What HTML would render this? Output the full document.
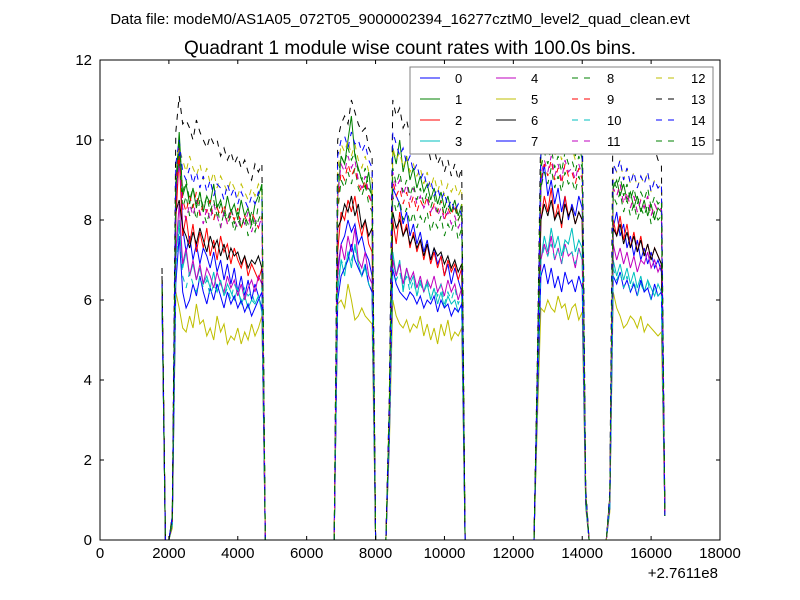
<!DOCTYPE html>
<html><head><meta charset="utf-8"><style>
body{margin:0;background:#fff;}
svg{display:block;font-family:"Liberation Sans",sans-serif;}
</style></head><body>
<svg id="chart" width="800" height="600">
<rect width="800" height="600" fill="#fff"/>
<text x="400" y="24" text-anchor="middle" font-size="15">Data file: modeM0/AS1A05_072T05_9000002394_16277cztM0_level2_quad_clean.evt</text>
<text x="410" y="54" text-anchor="middle" font-size="19">Quadrant 1 module wise count rates with 100.0s bins.</text>
<g id="plot"></g>
<g id="axes"></g>
<g id="legend"></g>
</svg>
<script>
const times=[1800,1900,2000,2100,2200,2300,2400,2500,2600,2700,2800,2900,3000,3100,3200,3300,3400,3500,3600,3700,3800,3900,4000,4100,4200,4300,4400,4500,4600,4700,4800,
6800,6900,7000,7100,7200,7300,7400,7500,7600,7700,7800,7900,8000,
8300,8400,8500,8600,8700,8800,8900,9000,9100,9200,9300,9400,9500,9600,9700,9800,9900,10000,10100,10200,10300,10400,10500,10600,
12600,12700,12800,12900,13000,13100,13200,13300,13400,13500,13600,13700,13800,13900,14000,14100,14200,
14700,14800,14900,15000,15100,15200,15300,15400,15500,15600,15700,15800,15900,16000,16100,16200,16300,16400];
const s0=[6.2,0,0,0.5,8.4,9.8,7.8,7.2,7.6,7.0,7.4,6.9,7.3,7.1,6.8,7.2,6.7,7.0,6.5,6.9,6.4,6.8,6.2,6.6,6.1,6.5,6.0,6.4,6.1,5.8,0,
0,6.8,7.4,7.6,8.0,7.7,7.9,7.4,7.6,7.2,7.0,6.6,0,
0,3.0,8.8,8.6,8.4,7.9,8.2,7.6,7.9,7.4,7.7,7.2,7.5,7.0,7.3,6.9,7.1,6.6,6.9,6.4,6.8,6.5,6.2,0,
0,4.0,8.8,9.4,8.6,9.0,8.4,8.8,8.2,8.6,8.0,8.4,8.1,8.6,8.3,1.0,0,
0,1.0,7.8,8.2,7.6,7.9,7.3,7.6,7.1,7.5,7.0,7.3,6.9,7.2,6.8,7.0,6.7,0.6];
const s1=[6.4,0,0,0.6,8.9,10.2,8.6,8.9,8.4,8.8,8.3,8.7,8.2,8.6,8.4,8.9,8.3,8.5,8.1,8.6,8.2,8.4,8.0,8.5,8.1,8.3,7.9,8.4,8.6,8.9,0,
0,8.6,9.6,9.4,10.0,10.6,9.6,9.3,9.0,8.8,9.2,8.5,0,
0,3.2,9.8,9.4,10.0,9.2,9.6,9.0,9.3,8.8,9.1,8.7,8.9,8.5,8.8,8.4,8.7,8.3,8.6,8.2,8.5,8.1,8.4,0,
0,4.2,9.6,10.2,9.8,10.4,9.9,10.1,9.7,10.3,9.8,10.0,9.6,9.9,9.5,1.2,0,
0,1.1,8.8,9.0,8.6,8.9,8.5,8.7,8.3,8.6,8.2,8.5,8.1,8.4,8.0,8.3,8.2,0.6];
const s2=[6.3,0,0,0.5,8.0,9.6,7.6,8.1,7.4,7.9,7.2,7.7,7.3,7.8,7.1,7.5,7.0,7.6,7.2,7.4,6.9,7.3,7.0,6.8,7.1,6.6,6.9,6.7,6.5,6.8,0,
0,7.2,8.2,8.0,8.5,8.2,8.6,8.0,7.6,8.0,7.4,7.2,0,
0,2.8,8.0,7.4,8.2,7.6,7.9,7.3,7.7,7.2,7.5,7.0,7.4,6.9,7.2,6.8,7.1,6.6,7.0,6.7,6.9,6.5,6.8,0,
0,3.8,8.0,8.6,8.2,8.8,8.0,8.4,7.8,8.6,8.1,8.3,7.9,8.2,8.0,1.0,0,
0,0.9,8.0,7.6,8.1,7.5,7.9,7.3,7.7,7.2,7.6,7.1,7.4,7.0,7.3,7.1,6.9,0.6];
const s3=[6.0,0,0,0.4,7.0,8.0,6.8,7.2,6.6,6.9,6.5,6.8,6.4,6.6,6.3,6.7,6.2,6.5,6.1,6.4,6.2,6.0,6.3,5.9,6.1,5.8,6.0,5.9,6.1,5.7,0,
0,6.2,7.0,6.6,7.2,6.8,7.4,6.9,6.6,6.8,6.4,6.2,0,
0,2.6,7.2,6.6,7.0,6.2,6.8,6.4,6.6,6.1,6.5,6.2,6.4,6.0,6.3,5.9,6.2,5.8,6.1,5.9,6.0,5.7,5.9,0,
0,3.6,7.0,7.6,7.2,7.8,7.3,7.6,7.1,7.5,7.4,7.8,7.2,7.5,7.3,0.9,0,
0,0.8,7.0,6.6,6.9,6.5,6.8,6.4,6.7,6.3,6.6,6.2,6.5,6.3,6.1,6.4,6.2,0.6];
const s4=[6.1,0,0,0.4,7.2,8.4,6.9,7.3,6.6,7.0,6.5,6.9,6.4,6.8,6.6,6.3,6.7,6.4,6.2,6.6,6.3,6.5,6.1,6.4,6.0,6.3,6.5,6.2,6.6,6.4,0,
0,6.6,7.4,7.0,7.6,7.2,7.8,7.0,6.8,7.2,6.6,6.4,0,
0,2.7,7.0,6.6,6.9,6.4,6.8,6.5,6.7,6.3,6.6,6.2,6.5,6.3,6.6,6.2,6.4,6.1,6.5,6.2,6.4,6.0,6.3,0,
0,3.7,7.0,7.4,7.1,7.6,7.0,7.3,6.9,7.4,7.1,7.2,6.8,7.3,7.0,0.9,0,
0,0.8,7.4,7.0,7.3,6.9,7.2,6.8,7.1,6.7,7.0,6.9,7.2,6.8,7.0,6.7,6.9,0.6];
const s5=[6.5,0,0,0.3,6.2,5.8,5.3,5.2,5.6,5.3,5.9,5.4,5.5,5.1,5.3,5.0,5.6,5.2,5.4,4.9,5.1,5.0,5.3,4.9,5.2,5.0,5.4,5.1,5.3,5.6,0,
0,5.9,6.0,5.8,6.4,6.0,5.5,5.6,5.8,5.6,5.5,5.4,0,
0,2.3,6.0,5.6,5.4,5.3,5.5,5.2,5.4,5.3,5.6,5.1,5.4,5.0,5.3,4.9,5.4,5.1,5.5,5.0,5.2,5.1,5.3,0,
0,3.0,5.8,5.7,6.0,5.8,5.7,6.1,5.8,5.9,5.5,5.8,5.9,5.5,5.7,0.8,0,
0,0.7,6.2,5.8,5.6,5.3,5.4,5.6,5.5,5.3,5.6,5.2,5.4,5.3,5.2,5.1,5.2,0.6];
const s6=[6.6,0,0,0.5,8.2,8.5,7.8,7.6,7.3,7.7,7.4,7.8,7.5,7.2,7.6,7.3,7.5,7.1,7.4,7.0,7.3,7.1,7.2,6.9,7.1,6.8,7.0,6.9,7.1,6.8,0,
0,7.8,8.0,8.4,8.2,8.6,8.1,8.4,7.8,8.0,7.6,7.8,0,
0,2.9,8.2,7.8,8.0,7.6,7.8,7.4,7.6,7.3,7.5,7.1,7.4,7.0,7.3,7.1,7.2,6.9,7.1,6.8,7.0,6.7,6.9,0,
0,3.9,8.0,8.4,8.1,8.5,8.0,8.2,7.9,8.4,8.1,8.3,7.9,8.2,8.0,1.0,0,
0,0.9,7.8,7.6,7.9,7.4,7.7,7.3,7.6,7.2,7.5,7.1,7.4,7.0,7.3,7.1,6.9,0.6];
const s7=[6.0,0,0,0.4,6.4,7.6,6.2,5.8,6.0,6.4,6.1,6.6,6.2,5.9,6.3,6.0,6.4,6.1,5.8,6.2,5.9,6.1,5.8,6.0,5.7,5.9,5.6,5.8,6.0,6.2,0,
0,6.0,6.6,6.8,7.0,7.4,7.0,6.8,6.6,6.9,6.4,6.2,0,
0,2.5,6.8,6.4,6.2,6.1,6.0,6.2,6.1,5.9,6.1,5.8,6.0,5.9,6.1,5.7,6.0,5.8,5.9,5.6,5.8,5.7,5.9,0,
0,3.4,6.6,6.9,6.4,6.8,6.3,6.6,6.2,6.7,6.4,6.5,6.2,6.6,6.3,0.9,0,
0,0.8,6.6,6.4,6.7,6.3,6.5,6.2,6.4,6.1,6.5,6.2,6.3,6.0,6.4,6.1,6.2,0.6];
const s8=[6.3,0,0,0.5,8.6,9.6,8.3,8.6,8.1,8.4,8.0,8.5,8.2,7.9,8.3,8.0,8.4,7.8,8.2,7.9,8.1,7.7,8.0,7.8,8.1,7.6,7.9,7.7,8.0,8.2,0,
0,8.2,9.0,8.8,9.2,8.9,9.3,8.8,8.6,8.9,8.4,8.2,0,
0,3.1,8.6,8.2,8.5,8.0,8.3,7.9,8.2,7.8,8.1,7.9,8.2,7.7,8.0,7.8,8.1,7.6,7.9,7.7,8.0,7.5,7.8,0,
0,4.1,8.8,9.2,8.9,9.3,8.8,9.1,8.7,9.2,8.9,9.0,8.7,9.1,8.8,1.1,0,
0,1.0,8.6,8.4,8.7,8.2,8.5,8.1,8.4,8.0,8.3,8.1,8.4,7.9,8.2,8.0,8.1,0.6];
const s9=[6.4,0,0,0.5,8.8,9.8,8.5,8.2,8.6,8.3,8.7,8.1,8.4,8.2,8.5,8.0,8.3,8.1,8.4,7.9,8.2,8.0,8.3,7.8,8.1,7.9,8.2,8.0,7.8,8.1,0,
0,8.4,9.2,9.0,9.4,9.1,9.3,8.9,8.7,9.0,8.6,8.4,0,
0,3.2,9.0,8.6,8.8,8.4,8.7,8.3,8.6,8.2,8.5,8.3,8.6,8.1,8.4,8.2,8.5,8.0,8.3,8.1,8.4,8.0,8.2,0,
0,4.1,9.0,9.4,9.1,9.5,9.0,9.3,8.9,9.4,9.1,9.2,8.9,9.3,9.0,1.1,0,
0,1.0,8.8,8.6,8.9,8.4,8.7,8.3,8.6,8.2,8.5,8.3,8.6,8.1,8.4,8.2,8.3,0.6];
const s10=[6.2,0,0,0.4,6.8,7.8,6.6,6.3,6.7,6.4,6.2,6.6,6.3,6.5,6.1,6.4,6.2,6.5,6.1,6.3,6.0,6.4,6.2,6.0,6.3,6.1,6.2,5.9,6.1,6.3,0,
0,6.4,7.0,6.8,7.2,7.0,7.3,6.9,6.6,6.9,6.4,6.2,0,
0,2.6,6.8,6.5,6.7,6.3,6.6,6.2,6.5,6.1,6.4,6.2,6.5,6.0,6.3,6.1,6.4,5.9,6.2,6.0,6.3,5.9,6.1,0,
0,3.6,7.0,7.3,7.1,7.4,7.0,7.3,6.9,7.4,7.1,7.2,6.9,7.3,7.0,0.9,0,
0,0.8,6.8,6.5,6.7,6.3,6.6,6.2,6.5,6.1,6.4,6.2,6.5,6.0,6.3,6.1,6.2,0.6];
const s11=[6.3,0,0,0.5,8.6,9.4,8.3,8.0,8.4,8.1,8.5,8.2,7.9,8.3,8.0,8.4,8.1,7.8,8.2,7.9,8.3,8.0,7.8,8.1,7.9,8.2,7.7,8.0,7.8,8.1,0,
0,8.6,9.4,9.2,9.6,9.3,9.5,9.0,8.8,9.1,8.7,8.4,0,
0,3.1,9.2,8.8,9.0,8.6,8.9,8.5,8.8,8.4,8.6,8.3,8.5,8.2,8.4,8.1,8.3,8.0,8.2,7.9,8.1,7.8,8.0,0,
0,4.1,9.1,9.5,9.2,9.6,9.1,9.4,9.0,9.5,9.2,9.3,9.0,9.4,9.1,1.1,0,
0,1.0,8.8,8.6,8.9,8.4,8.7,8.3,8.6,8.2,8.5,8.3,8.6,8.1,8.4,8.2,8.3,0.6];
const s12=[6.5,0,0,0.6,9.4,9.8,9.5,9.2,9.6,9.3,9.1,9.4,9.0,9.3,8.9,9.2,8.8,9.1,8.9,8.7,9.0,8.8,8.6,8.9,8.7,8.5,8.8,8.6,8.9,8.7,0,
0,9.2,9.9,9.7,10.0,9.6,9.9,9.5,9.3,9.6,9.2,9.0,0,
0,3.4,9.8,9.5,9.7,9.3,9.6,9.2,9.4,9.1,9.3,8.9,9.2,8.8,9.1,8.7,9.0,8.6,8.9,8.7,8.9,8.6,8.8,0,
0,4.4,9.6,9.9,9.7,10.0,9.6,9.9,9.5,10.0,9.7,9.8,9.5,9.9,9.6,1.2,0,
0,1.1,9.4,9.2,9.5,9.0,9.3,8.9,9.2,8.8,9.1,8.9,9.2,8.7,9.0,8.8,8.9,0.6];
const s13=[6.8,0,0,0.6,10.2,11.1,10.4,10.5,10.3,10.0,10.5,10.2,10.0,9.8,10.1,9.9,10.0,9.6,9.8,9.5,9.7,9.4,9.6,9.3,9.5,9.2,9.0,9.4,9.2,9.4,0,
0,10.0,10.4,10.6,10.4,11.0,10.7,10.4,10.2,10.3,9.8,9.6,0,
0,3.6,11.0,10.6,10.8,10.3,10.5,10.1,10.3,9.9,10.1,9.7,9.9,9.5,9.8,9.4,9.6,9.2,9.5,9.1,9.4,9.0,9.3,0,
0,4.6,10.6,11.0,10.7,11.2,10.8,11.0,10.5,11.1,10.8,11.0,10.6,11.0,10.7,1.3,0,
0,1.2,11.2,10.8,10.9,10.4,10.6,10.2,10.4,10.0,10.2,9.8,10.0,9.6,9.8,9.5,9.4,0.7];
const s14=[6.4,0,0,0.6,9.4,10.0,9.2,9.0,9.3,8.9,9.2,8.8,9.1,8.7,9.0,8.6,8.9,8.8,8.5,8.9,8.6,8.8,8.4,8.7,8.5,8.3,8.6,8.4,8.7,8.5,0,
0,9.6,10.0,10.1,9.8,10.2,9.9,10.0,9.7,9.9,9.5,9.3,0,
0,3.4,10.2,9.9,9.6,9.8,9.4,9.6,9.2,9.4,9.0,9.2,8.8,9.0,8.6,8.8,8.5,8.7,8.3,8.5,8.2,8.4,8.1,0,
0,4.3,9.8,10.2,9.9,10.3,9.8,10.1,9.7,10.2,9.9,10.0,9.7,10.1,9.8,1.2,0,
0,1.1,9.4,9.2,9.5,9.0,9.3,8.9,9.2,8.8,9.1,8.9,9.2,8.7,9.0,8.8,8.9,0.6];
const s15=[6.3,0,0,0.5,8.8,10.0,8.7,9.0,8.5,8.8,8.4,8.7,8.3,8.6,8.2,8.5,8.1,8.4,8.3,8.0,8.3,7.9,8.2,7.8,8.1,7.9,8.2,7.8,8.4,8.9,0,
0,9.0,9.6,9.4,9.8,9.5,9.7,9.2,9.0,9.3,8.8,8.6,0,
0,3.2,9.3,8.9,9.2,8.7,9.0,8.6,8.9,8.5,8.8,8.4,8.7,8.3,8.6,8.2,8.5,8.1,8.4,8.2,8.3,8.0,8.2,0,
0,4.2,9.3,9.7,9.4,9.8,9.3,9.6,9.2,9.7,9.4,9.5,9.2,9.6,9.3,1.1,0,
0,1.0,9.0,8.8,9.1,8.6,8.9,8.5,8.8,8.4,8.7,8.5,8.8,8.3,8.6,8.4,8.5,0.6];
const seriesNames=["0","1","2","3","4","5","6","7","8","9","10","11","12","13","14","15"];
const xTicks=[0,2000,4000,6000,8000,10000,12000,14000,16000,18000];
const yTicks=[0,2,4,6,8,10,12];

const allSeries=[s0,s1,s2,s3,s4,s5,s6,s7,s8,s9,s10,s11,s12,s13,s14,s15];
const colors=["#0000ff","#008000","#ff0000","#00bfbf","#bf00bf","#bfbf00","#000000","#0000ff","#008000","#ff0000","#00bfbf","#bf00bf","#bfbf00","#000000","#0000ff","#008000"];
const dashed=[0,0,0,0,0,0,0,0,1,1,1,1,1,1,1,1];
const X0=100,X1=720,Y0=540,Y1=60;
const xs=v=>X0+(v-0)/(18000-0)*(X1-X0);
const ys=v=>Y0-(v-0)/(12-0)*(Y0-Y1);
const NS="http://www.w3.org/2000/svg";
function mk(tag,attrs,parent){const e=document.createElementNS(NS,tag);for(const k in attrs)e.setAttribute(k,attrs[k]);parent.appendChild(e);return e;}
const plot=document.getElementById('plot'),axes=document.getElementById('axes'),leg=document.getElementById('legend');
const cp=mk('clipPath',{id:'cp'},plot);mk('rect',{x:X0,y:Y1,width:X1-X0,height:Y0-Y1},cp);
const g=mk('g',{'clip-path':'url(#cp)'},plot);
allSeries.forEach((s,i)=>{
  const d=s.map((v,j)=>(j?'L':'M')+xs(times[j]).toFixed(1)+','+ys(v).toFixed(1)).join('');
  const p=mk('path',{d:d,fill:'none',stroke:colors[i],'stroke-width':1,'stroke-dasharray':dashed[i]?'6,6':'none'},g);
  
  
});
const frame=mk('rect',{x:X0,y:Y1,width:X1-X0,height:Y0-Y1,fill:'none',stroke:'#000','stroke-width':1},axes);


xTicks.forEach(t=>{
  const x=xs(t);
  mk('line',{x1:x,x2:x,y1:Y0,y2:Y0-4,stroke:'#000'},axes);
  mk('line',{x1:x,x2:x,y1:Y1,y2:Y1+4,stroke:'#000'},axes);
  const tx=mk('text',{x:x,y:Y0+18,'text-anchor':'middle','font-size':15},axes);tx.textContent=t;
  
  
});
yTicks.forEach(t=>{
  const y=ys(t);
  mk('line',{x1:X0,x2:X0+4,y1:y,y2:y,stroke:'#000'},axes);
  mk('line',{x1:X1,x2:X1-4,y1:y,y2:y,stroke:'#000'},axes);
  const tx=mk('text',{x:X0-8,y:y+5,'text-anchor':'end','font-size':15},axes);tx.textContent=t;
  
  
});
const off=mk('text',{x:718,y:578,'text-anchor':'end','font-size':15},axes);off.textContent='+2.7611e8';


const lb=mk('rect',{x:410,y:67,width:303,height:87,fill:'#fff',stroke:'#808080','stroke-width':1},leg);


const colX=[420,496,572,656];
seriesNames.forEach((n,i)=>{
  const c=Math.floor(i/4),r=i%4;const x=colX[c],y=78+r*21;
  const eg=mk('g',{},leg);
  
  
  mk('line',{x1:x,x2:x+20,y1:y,y2:y,stroke:colors[i],'stroke-width':1,'stroke-dasharray':dashed[i]?'6,6':'none'},eg);
  const t=mk('text',{x:x+35,y:y+5,'font-size':13},eg);t.textContent=n;
});
</script>
</body></html>
